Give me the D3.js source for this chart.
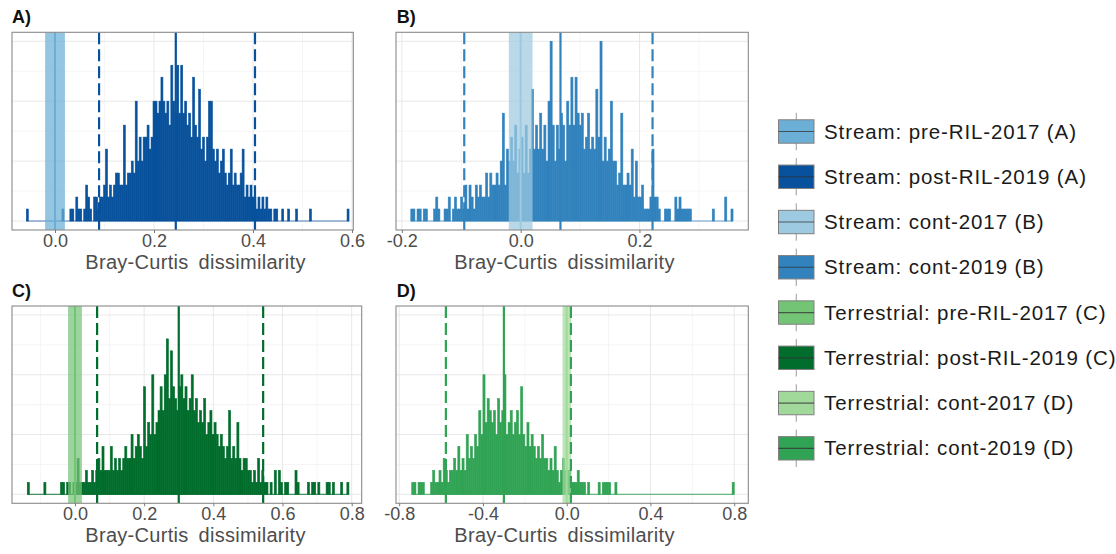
<!DOCTYPE html>
<html>
<head>
<meta charset="utf-8">
<script src="https://cdn.jsdelivr.net/npm/d3@7"></script>
<style>
  body { margin: 0; background: #fff; }
  svg { display: block; font-family: "Liberation Sans", Arial, sans-serif; }
</style>
</head>
<body>
<svg id="chart" width="1116" height="554"></svg>
<script>
// ---- data (counts per bin of the permutation null distributions) ----
const startA = -0.058, binA = 0.004;
const countsA = [
  1,0,0,0,0,0,0,0,0,0,0,0,0,0,0,0,0,0,1,0,
  0,0,1,1,0,2,1,1,0,1,3,2,1,0,2,2,1,2,2,3,
  6,2,3,2,3,4,4,3,3,8,3,4,4,5,4,10,5,7,5,7,
  7,8,6,7,10,10,9,10,12,10,9,10,8,13,10,9,13,9,13,9,
  10,8,9,7,12,8,7,11,6,7,5,7,10,10,6,5,6,4,5,6,
  4,3,4,6,3,4,3,3,4,6,2,3,2,3,2,2,1,2,1,2,
  1,2,1,1,0,1,1,0,0,1,0,0,1,0,0,0,1,0,0,0,
  0,0,0,1,0,0,0,0,0,0,0,0,0,0,0,0,0,0,0,0,
  0,0,1
];
const startB = -0.185, binB = 0.0035;
const countsB = [
  1,1,0,1,1,0,1,1,0,0,0,1,2,1,0,0,1,1,2,0,
  1,2,1,1,2,1,3,1,3,2,1,3,2,3,2,2,4,2,4,3,
  3,4,3,5,9,3,6,5,7,5,8,4,6,7,4,8,4,6,11,6,
  8,6,9,6,8,5,10,15,8,5,8,6,9,8,5,10,8,12,8,12,
  9,8,9,6,7,9,6,7,6,11,7,15,5,7,5,6,10,5,5,3,
  4,9,3,3,4,3,6,2,5,2,2,3,1,1,1,2,6,2,2,1,
  0,0,1,1,1,0,0,2,1,2,1,1,1,1,1,0,0,0,0,0,
  0,0,0,0,0,1,0,0,0,0,0,2,0,0,1
];
const startC = -0.138, binC = 0.006;
const countsC = [
  1,0,0,0,0,0,0,0,1,0,0,0,0,0,0,0,1,1,0,1,
  1,0,1,1,3,1,1,1,2,1,1,2,1,2,3,2,4,2,2,2,
  4,2,3,2,3,2,3,4,3,3,5,3,4,5,4,3,9,4,6,5,
  10,5,6,7,9,7,10,13,8,12,9,8,7,9,10,8,9,7,8,10,
  7,8,6,7,6,8,5,6,7,5,6,5,4,5,4,3,4,7,3,4,
  3,6,3,2,3,3,2,2,1,2,1,3,1,2,1,1,0,1,0,2,
  0,2,1,0,1,1,0,0,0,2,1,0,0,0,0,1,0,1,1,0,
  1,0,0,0,1,1,0,1,0,0,0,1,0,0,1
];
const startD = -0.74, binD = 0.01;
const countsD = [
  1,1,0,1,1,1,0,0,0,1,2,1,1,2,1,3,2,1,2,2,
  3,2,4,2,3,2,5,3,4,3,5,4,7,5,10,6,8,7,6,7,
  5,8,6,7,10,5,6,7,5,6,7,5,9,5,4,6,4,5,4,3,
  4,3,5,3,3,2,3,2,4,2,1,2,3,2,2,2,1,1,1,2,
  1,1,1,0,1,0,0,0,0,1,0,1,1,1,1,0,0,1,0,0,
  0,0,0,0,0,0,0,0,0,0,0,0,0,0,0,0,0,0,0,0,
  0,0,0,0,0,0,0,0,0,0,0,0,0,0,0,0,0,0,0,0,
  0,0,0,0,0,0,0,0,0,0,0,0,0,1
];

// observed dissimilarity (solid) and 95% interval (dashed)
const observed = [0.244, 0.067, 0.30, -0.30];
const ciLow = [0.089, -0.095, 0.064, -0.577];
const ciHigh = [0.404, 0.222, 0.544, 0.02];
// reference band (2017 baseline) around zero
const bandLow = [-0.02, -0.02, -0.02, -0.02];
const bandHigh = [0.02, 0.02, 0.02, 0.02];
const bandMid = [0, 0, 0, 0];

const panelNames = ["A)", "B)", "C)", "D)"];
const ticksA = [0, 0.2, 0.4, 0.6];
const ticksB = [-0.2, 0, 0.2];
const ticksC = [0, 0.2, 0.4, 0.6, 0.8];
const ticksD = [-0.8, -0.4, 0, 0.4, 0.8];
const yMajor = [0, 5, 10, 15];
const yMinor = [2.5, 7.5, 12.5];

const legendLabels = [
  "Stream: pre-RIL-2017 (A)",
  "Stream: post-RIL-2019 (A)",
  "Stream: cont-2017 (B)",
  "Stream: cont-2019 (B)",
  "Terrestrial: pre-RIL-2017 (C)",
  "Terrestrial: post-RIL-2019 (C)",
  "Terrestrial: cont-2017 (D)",
  "Terrestrial: cont-2019 (D)"
];
const legendColors = ["#6baed6", "#08519c", "#9ecae1", "#3182bd",
                      "#74c476", "#006d2c", "#a1d99b", "#31a354"];

// ---- layout ----
const color = d3.scaleOrdinal(legendLabels, legendColors);

const panels = [
  { counts: countsA, start: startA, bin: binA, ticks: ticksA,
    hist: legendLabels[1], band: legendLabels[0],
    box: { x0: 12, x1: 353.3, y0: 32.3, y1: 230 }, dom: [-0.0869, 0.6026], titleX: 195.5 },
  { counts: countsB, start: startB, bin: binB, ticks: ticksB,
    hist: legendLabels[3], band: legendLabels[2],
    box: { x0: 396, x1: 748.3, y0: 32.3, y1: 230 }, dom: [-0.2099, 0.3832], titleX: 564.5 },
  { counts: countsC, start: startC, bin: binC, ticks: ticksC,
    hist: legendLabels[5], band: legendLabels[4],
    box: { x0: 12, x1: 361.7, y0: 306, y1: 503.3 }, dom: [-0.1821, 0.8289], titleX: 195.5 },
  { counts: countsD, start: startD, bin: binD, ticks: ticksD,
    hist: legendLabels[7], band: legendLabels[6],
    box: { x0: 396, x1: 748.3, y0: 306, y1: 503.3 }, dom: [-0.8152, 0.8672], titleX: 564.5 }
];

const svg = d3.select("#chart");

function minorBreaks(ticks) {
  const step = ticks[1] - ticks[0];
  const out = [];
  for (let i = -1; i < ticks.length; i++) out.push(ticks[0] + step * (i + 0.5));
  return out;
}

panels.forEach((p, k) => {
  const b = p.box;
  const x = d3.scaleLinear().domain(p.dom).range([b.x0, b.x1]);
  const y = d3.scaleLinear().domain([-0.75, 15.75]).range([b.y1, b.y0]);
  const g = svg.append("g");

  const clipId = "clip" + k;
  svg.append("clipPath").attr("id", clipId)
    .append("rect").attr("x", b.x0).attr("y", b.y0)
    .attr("width", b.x1 - b.x0).attr("height", b.y1 - b.y0);

  const inner = g.append("g").attr("clip-path", "url(#" + clipId + ")");

  // grid
  inner.selectAll(".ymin").data(yMinor).join("line")
    .attr("x1", b.x0).attr("x2", b.x1).attr("y1", d => y(d)).attr("y2", d => y(d))
    .attr("stroke", "#f3f3f3").attr("stroke-width", 0.8);
  inner.selectAll(".xmin").data(minorBreaks(p.ticks)).join("line")
    .attr("x1", d => x(d)).attr("x2", d => x(d)).attr("y1", b.y0).attr("y2", b.y1)
    .attr("stroke", "#f3f3f3").attr("stroke-width", 0.8);
  inner.selectAll(".ymaj").data(yMajor).join("line")
    .attr("x1", b.x0).attr("x2", b.x1).attr("y1", d => y(d)).attr("y2", d => y(d))
    .attr("stroke", "#e8e8e8").attr("stroke-width", 1);
  inner.selectAll(".xmaj").data(p.ticks).join("line")
    .attr("x1", d => x(d)).attr("x2", d => x(d)).attr("y1", b.y0).attr("y2", b.y1)
    .attr("stroke", "#e8e8e8").attr("stroke-width", 1);

  // histogram
  const bins = p.counts.map((c, i) => ({
    lo: p.start + i * p.bin, hi: p.start + (i + 1) * p.bin, c
  }));
  const histCol = color(p.hist);
  inner.append("line")
    .attr("x1", x(bins[0].lo)).attr("x2", x(bins[bins.length - 1].hi))
    .attr("y1", y(0)).attr("y2", y(0))
    .attr("stroke", histCol).attr("stroke-width", 1.2).attr("opacity", 0.7);
  inner.selectAll(".bar").data(bins.filter(d => d.c > 0)).join("rect")
    .attr("x", d => x(d.lo))
    .attr("width", d => x(d.hi) - x(d.lo))
    .attr("y", d => y(d.c))
    .attr("height", d => y(0) - y(d.c))
    .attr("fill", histCol)
    .attr("stroke", histCol).attr("stroke-width", 0.6);

  // reference band
  const bandCol = color(p.band);
  inner.append("rect")
    .attr("x", x(bandLow[k])).attr("width", x(bandHigh[k]) - x(bandLow[k]))
    .attr("y", b.y0).attr("height", b.y1 - b.y0)
    .attr("fill", bandCol).attr("opacity", 0.72);
  inner.append("line")
    .attr("x1", x(bandMid[k])).attr("x2", x(bandMid[k]))
    .attr("y1", b.y0).attr("y2", b.y1)
    .attr("stroke", bandCol).attr("stroke-width", 2);

  // interval + observed
  inner.selectAll(".ci").data([ciLow[k], ciHigh[k]]).join("line")
    .attr("x1", d => x(d)).attr("x2", d => x(d)).attr("y1", b.y0).attr("y2", b.y1)
    .attr("stroke", histCol).attr("stroke-width", 2.2)
    .attr("stroke-dasharray", "12,5");
  inner.append("line")
    .attr("x1", x(observed[k])).attr("x2", x(observed[k]))
    .attr("y1", b.y0).attr("y2", b.y1)
    .attr("stroke", histCol).attr("stroke-width", 2.2);

  // frame
  g.append("rect")
    .attr("x", b.x0).attr("y", b.y0)
    .attr("width", b.x1 - b.x0).attr("height", b.y1 - b.y0)
    .attr("fill", "none").attr("stroke", "#8a8a8a").attr("stroke-width", 1.1);

  // x axis
  const ax = g.append("g").attr("transform", "translate(0," + b.y1 + ")")
    .call(d3.axisBottom(x).tickValues(p.ticks).tickSize(3).tickPadding(1)
      .tickFormat(d => d.toFixed(1)));
  ax.select(".domain").remove();
  ax.selectAll(".tick line").attr("stroke", "#777");
  ax.selectAll(".tick text")
    .attr("font-family", "'Liberation Sans', Arial, sans-serif")
    .attr("font-size", 18).attr("fill", "#4d4d4d");

  g.append("text")
    .attr("x", p.titleX).attr("y", b.y1 + 39)
    .attr("text-anchor", "middle")
    .attr("font-size", 20).attr("fill", "#4d4d4d")
    .attr("letter-spacing", 0.3).attr("word-spacing", 4)
    .text("Bray-Curtis dissimilarity");

  g.append("text")
    .attr("x", b.x0 + (k % 2 ? 0.7 : 0)).attr("y", b.y0 - 9)
    .attr("font-size", 18).attr("font-weight", "bold").attr("fill", "#111")
    .text(panelNames[k]);
});

// ---- legend ----
const ly = d3.scalePoint().domain(legendLabels).range([131.5, 448.3]);
const lg = svg.append("g");
const keyX = 778.5, keyW = 35.5, keyH = 23.4;

const rows = lg.selectAll(".key").data(legendLabels).join("g");
rows.append("line")
  .attr("x1", keyX + keyW / 2).attr("x2", keyX + keyW / 2)
  .attr("y1", d => ly(d) - keyH / 2 - 7).attr("y2", d => ly(d) + keyH / 2 + 7)
  .attr("stroke", "#9a9a9a").attr("stroke-width", 1);
rows.append("rect")
  .attr("x", keyX).attr("y", d => ly(d) - keyH / 2)
  .attr("width", keyW).attr("height", keyH)
  .attr("fill", d => color(d)).attr("stroke", "#808080").attr("stroke-width", 1);
rows.append("line")
  .attr("x1", keyX).attr("x2", keyX + keyW)
  .attr("y1", d => ly(d)).attr("y2", d => ly(d))
  .attr("stroke", "#333").attr("stroke-opacity", 0.75).attr("stroke-width", 1.2);
rows.append("text")
  .attr("x", 824).attr("y", d => ly(d) + 7)
  .attr("font-size", 20.5).attr("letter-spacing", 0.9).attr("fill", "#1a1a1a")
  .text(d => d);
</script>
</body>
</html>
